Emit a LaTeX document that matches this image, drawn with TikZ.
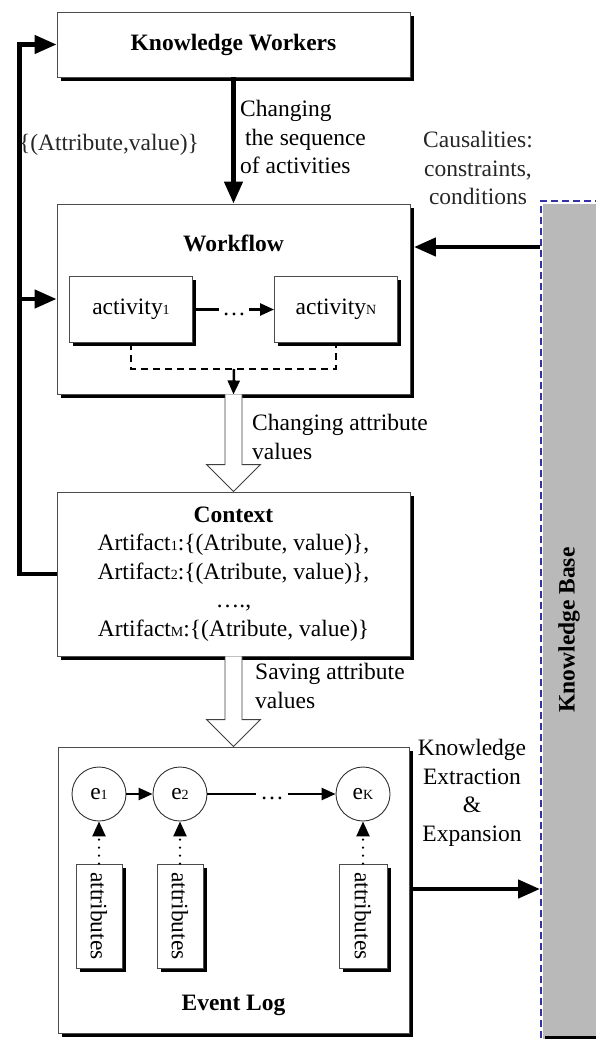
\documentclass[tikz,border=0pt]{standalone}
\usepackage{fontspec}
\usepackage{graphicx}
\setmainfont{Liberation Serif}
\usetikzlibrary{arrows.meta,shadows,calc}
\definecolor{kbblue}{RGB}{50,50,165}
\newcommand\sbs[1]{{\fontsize{14}{14}\selectfont #1}}
\begin{document}
\begin{tikzpicture}[x=1pt,y=-1pt,
  every node/.style={font=\fontsize{23.5}{28.5}\selectfont, inner sep=0pt},
  box/.style={draw=black!70, line width=0.9pt, fill=white,
    general shadow={fill=black, shadow xshift=3.5pt, shadow yshift=-3.5pt}},
  circ/.style={draw=black!80, line width=0.9pt, circle, minimum size=54pt, fill=white},
  bigarrow/.style={line width=4.5pt, line join=miter, -{Triangle[length=22pt,width=18pt]}},
  smallline/.style={line width=2.5pt},
  smallarrow/.style={line width=2.5pt, -{Triangle[length=14pt,width=12pt]}},
  dotarrow/.style={line width=2.5pt, dash pattern=on 0pt off 8pt, line cap=round, -{Triangle[length=15pt,width=13pt]}},
  dashline/.style={line width=1.6pt, dash pattern=on 7pt off 5pt},
  hollow/.style={draw=black!75, line width=0.9pt, fill=white, line join=miter},
  shadowtext/.style={text=black!85},
]
\useasboundingbox (0,0) rectangle (595,1039);

% knowledge base
\fill[gray!55] (543,204) rectangle (600,1045);
\fill[black] (545,1036) rectangle (600,1045);
\node[draw=kbblue, line width=1.5pt, dash pattern=on 7pt off 4pt, minimum width=62pt, minimum height=850pt, anchor=north west] (kb) at (540,200) {};
\node (kbt) at (569,630) {\bfseries\rotatebox{90}{Knowledge Base}};

% main boxes
\node[box, minimum width=353pt, minimum height=65pt] (kw) at (233.5,44.5) {\bfseries Knowledge Workers};
\node[box, minimum width=353pt, minimum height=190pt] (wf) at (233.5,299) {};
\node (wft) at (233.5,243) {\bfseries Workflow};
\node[box, minimum width=123pt, minimum height=66.5pt] (a1) at (131,309.5) {activity\sbs{1}};
\node[box, minimum width=123pt, minimum height=66.5pt] (aN) at (336,309.5) {activity\sbs{N}};
\node[inner sep=3pt] (d1) at (234,314) {\ldots};

\node[box, minimum width=353pt, minimum height=164pt, align=center] (ctx) at (233.5,574)
  {\textbf{Context}\\ Artifact\sbs{1}:\{(Atribute, value)\},\\ Artifact\sbs{2}:\{(Atribute, value)\},\\ \ldots.,\\ Artifact\sbs{M}:\{(Atribute, value)\}};

\node[box, minimum width=351pt, minimum height=286pt] (ev) at (233.5,890) {};
\node (evt) at (233.5,1005) {\bfseries Event Log};
\node[circ] (e1) at (99,794) {e\sbs{1}};
\node[circ] (e2) at (180,794) {e\sbs{2}};
\node[circ] (eK) at (363,794) {e\sbs{K}};
\node[inner sep=4pt] (d2) at (272,798) {\ldots};
\node[box, minimum width=46pt, minimum height=104pt] (t1) at (99,916) {\rotatebox{-90}{attributes}};
\node[box, minimum width=46pt, minimum height=104pt] (t2) at (180,916) {\rotatebox{-90}{attributes}};
\node[box, minimum width=48pt, minimum height=104pt] (tK) at (363,916) {\rotatebox{-90}{attributes}};

% workflow internals
\draw[smallline] (a1.east) -- (a1.east -| d1.west);
\draw[smallarrow] (aN.west -| d1.east) -- (aN.west);
\coordinate (m) at (234,369);
\draw[dashline] (a1.south) |- (m) -| (aN.south);
\draw[smallarrow] (m) -- (wf.south);

% event log internals
\draw[smallarrow] (e1) -- (e2);
\draw[smallline] (e2.east) -- (e2.east -| d2.west);
\draw[smallarrow] (eK.west -| d2.east) -- (eK.west);
\draw[dotarrow] (t1.north) -- (e1.south);
\draw[dotarrow] (t2.north) -- (e2.south);
\draw[dotarrow] (tK.north) -- (eK.south);

% big connectors
\draw[bigarrow] (kw.south) -- (wf.north);
\draw[bigarrow] (ctx.west) -- ++(-37,0) |- (kw.west);
\coordinate (jw) at (20,299);
\draw[bigarrow] (jw) -- (wf.west);
\coordinate (k1) at (540,247);
\draw[bigarrow] (kb.west |- k1) -- ($(wf.east |- k1)+(3.5,0)$);
\coordinate (x1) at (410,889);
\draw[bigarrow] ($(ev.east |- x1)+(1,0)$) -- (kb.west |- x1);

% hollow arrows
\draw[hollow] ($(wf.south)+(-8.5,0)$) -- ($(ctx.north)+(-8.5,-27)$) -- ($(ctx.north)+(-27,-27)$) -- (ctx.north) -- ($(ctx.north)+(27,-27)$) -- ($(ctx.north)+(8.5,-27)$) -- ($(wf.south)+(8.5,0)$);
\draw[hollow] ($(ctx.south)+(-8.5,0)$) -- ($(ev.north)+(-8.5,-27)$) -- ($(ev.north)+(-27,-27)$) -- (ev.north) -- ($(ev.north)+(27,-27)$) -- ($(ev.north)+(8.5,-27)$) -- ($(ctx.south)+(8.5,0)$);

% labels
\node[anchor=west, align=left] (lb1) at (240,137) {Changing\\\hspace*{5pt}the sequence\\of activities};
\node[anchor=west, align=left] (lb2) at (252,437) {Changing attribute\\values};
\node[anchor=west, align=left] (lb3) at (255,686) {Saving attribute\\values};
\node[shadowtext, align=center] (lb4) at (478,168) {Causalities:\\constraints,\\conditions};
\node[align=center] (lb5) at (472,793) {Knowledge\\Extraction\\\&\\Expansion};
\node[shadowtext] (lb6) at (109,145) {\{(Attribute,value)\}};
\end{tikzpicture}
\end{document}
